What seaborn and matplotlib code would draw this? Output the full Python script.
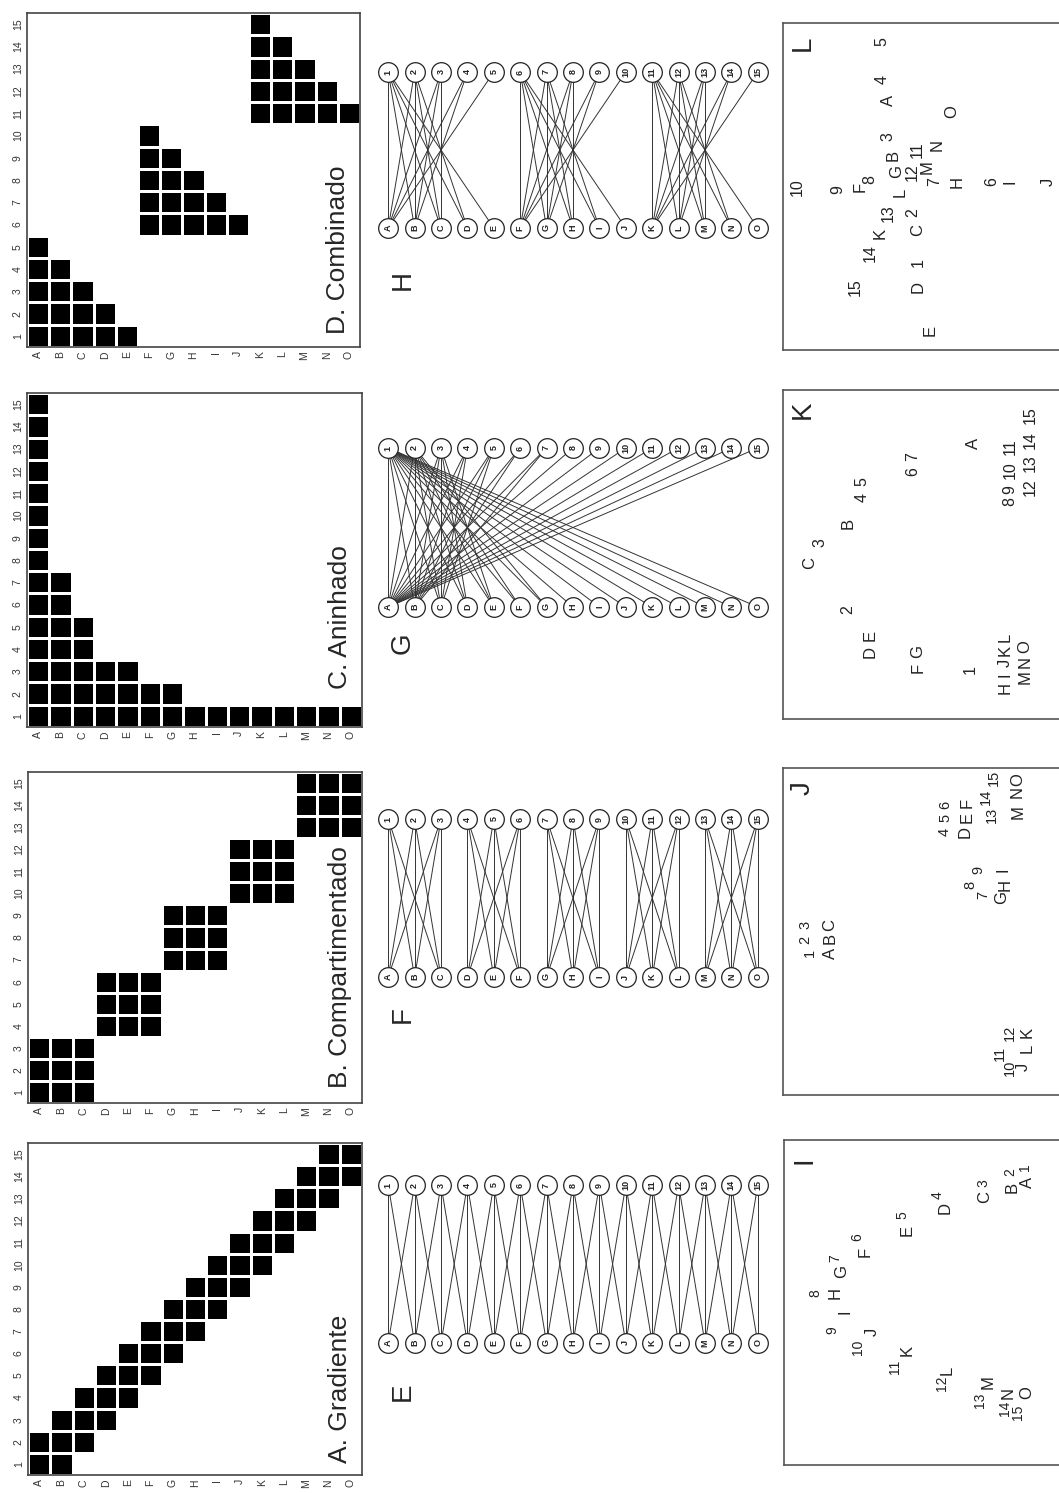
import numpy as np
import pandas as pd
import seaborn as sns
import matplotlib.pyplot as plt
from matplotlib.colors import ListedColormap

sns.set_theme(style="white")
plt.rcParams['font.family'] = ['Liberation Sans', 'DejaVu Sans']

W, H = 1059, 1493
fig = plt.figure(figsize=(W / 100, H / 100), dpi=100)

letters = list("ABCDEFGHIJKLMNO")
numbers = [str(i) for i in range(1, 16)]

# interaction ranges per plant (A..O): first and last animal (1..15)
grad_lo = [1, 1, 2, 3, 4, 5, 6, 7, 8, 9, 10, 11, 12, 13, 14]
grad_hi = [2, 3, 4, 5, 6, 7, 8, 9, 10, 11, 12, 13, 14, 15, 15]
comp_lo = [1, 1, 1, 4, 4, 4, 7, 7, 7, 10, 10, 10, 13, 13, 13]
comp_hi = [3, 3, 3, 6, 6, 6, 9, 9, 9, 12, 12, 12, 15, 15, 15]
nest_lo = [1, 1, 1, 1, 1, 1, 1, 1, 1, 1, 1, 1, 1, 1, 1]
nest_hi = [15, 7, 5, 3, 3, 2, 2, 1, 1, 1, 1, 1, 1, 1, 1]
comb_lo = [1, 1, 1, 1, 1, 6, 6, 6, 6, 6, 11, 11, 11, 11, 11]
comb_hi = [5, 4, 3, 2, 1, 10, 9, 8, 7, 6, 15, 14, 13, 12, 11]

# ordination scores (label, axis offsets inside each panel)
ordI_lab = ["1", "A", "2", "B", "3", "C", "4", "D", "5", "E", "6", "F", "7", "G", "8", "H",
            "I", "9", "10", "J", "11", "K", "12", "L", "13", "M", "14", "15", "N", "O"]
ordI_x = [241, 243, 226, 228, 199, 201, 154, 161, 118, 123, 73, 81, 51, 58, 31, 51,
          61, 48, 74, 88, 111, 123, 158, 163, 196, 204, 221, 234, 224, 243]
ordI_y = [27, 42, 32, 47, 43, 57, 55, 68, 75, 90, 97, 112, 118, 132, 153, 153,
          172, 190, 207, 192, 227, 210, 243, 230, 260, 242, 268, 272, 253, 253]

ordJ_lab = ["1", "2", "3", "A", "B", "C", "4", "5", "6", "D", "E", "F", "7", "8", "9", "G", "H", "I",
            "10", "11", "12", "J", "L", "K", "13", "14", "15", "M", "N", "O"]
ordJ_x = [27, 22, 22, 47, 47, 47, 162, 162, 162, 182, 184, 184, 200, 187, 195, 219, 222, 220,
          227, 217, 227, 240, 244, 244, 209, 203, 211, 235, 234, 235]
ordJ_y = [185, 172, 157, 185, 170, 157, 64, 50, 37, 64, 49, 35, 127, 117, 102, 129, 117, 102,
          300, 285, 265, 299, 280, 264, 47, 29, 10, 44, 24, 12]

ordK_lab = ["A", "6", "7", "4", "5", "B", "3", "C", "2", "D", "E", "F", "G", "1",
            "H", "I", "J", "K", "L", "M", "N", "O", "8", "9", "10", "11", "12", "13", "14", "15"]
ordK_x = [190, 130, 130, 79, 79, 65, 37, 27, 65, 87, 87, 135, 135, 187,
          222, 222, 222, 222, 222, 242, 242, 242, 227, 227, 227, 227, 247, 247, 247, 247]
ordK_y = [53, 82, 67, 107, 92, 133, 153, 173, 220, 262, 245, 278, 262, 280,
          298, 285, 273, 260, 247, 287, 272, 257, 112, 100, 80, 57, 97, 73, 50, 25]

ordL_lab = ["5", "4", "A", "O", "3", "B", "11", "N", "G", "12", "8", "M", "7", "9", "F",
            "10", "L", "H", "6", "I", "J", "13", "2", "K", "C", "14", "1", "15", "D", "E"]
ordL_x = [99, 99, 105, 169, 105, 110, 134, 154, 114, 129, 87, 144, 152, 55, 77,
          14, 117, 174, 209, 227, 265, 105, 130, 97, 135, 87, 135, 72, 135, 147]
ordL_y = [19, 57, 77, 89, 114, 132, 127, 122, 149, 149, 157, 144, 159, 167, 164,
          164, 169, 159, 159, 159, 159, 190, 190, 210, 207, 230, 240, 264, 264, 307]


def px_axes(x0, y0, x1, y1):
    return fig.add_axes([x0 / W, 1 - y1 / H, (x1 - x0) / W, (y1 - y0) / H])


def build_matrix(lo, hi):
    m = np.zeros((15, 15))
    for i, (a, b) in enumerate(zip(lo, hi)):
        m[a - 1:b, i] = 1
    return pd.DataFrame(m[::-1], index=numbers[::-1], columns=letters)


# ---- matrices A-D
mat_panels = [
    (grad_lo, grad_hi, "A. Gradiente", (28, 1143, 362, 1475), 0.035),
    (comp_lo, comp_hi, "B. Compartimentado", (28, 772, 362, 1103), 0.045),
    (nest_lo, nest_hi, "C. Aninhado", (27, 393, 362, 727), 0.115),
    (comb_lo, comb_hi, "D. Combinado", (27, 13, 360, 347), 0.04),
]
for lo, hi, title, box, ty in mat_panels:
    ax = px_axes(*box)
    sns.heatmap(build_matrix(lo, hi), cmap=ListedColormap(["white", "black"]), cbar=False,
                linewidths=0.8, linecolor="white", ax=ax)
    ax.set_xticklabels(letters, rotation=90, fontsize=7.5, color="#333")
    ax.set_yticklabels(numbers[::-1], rotation=90, fontsize=7.5, va="center", color="#333")
    ax.tick_params(length=0, pad=3)
    ax.set_xlabel("")
    ax.set_ylabel("")
    for s in ax.spines.values():
        s.set_visible(True)
        s.set_color("#444")
        s.set_linewidth(1.2)
    ax.text(0.935, ty, title, transform=ax.transAxes, rotation=90, fontsize=19,
            ha="center", va="bottom")

# ---- bipartite networks E-H
net_panels = [
    (grad_lo, grad_hi, "E", 1185, 1343, 1392),
    (comp_lo, comp_hi, "F", 819, 977, 1015),
    (nest_lo, nest_hi, "G", 448, 607, 643),
    (comb_lo, comb_hi, "H", 72, 228, 280),
]
for lo, hi, lab, ytop, ybot, ylab in net_panels:
    unit = ybot - ytop
    ax = px_axes(375, ytop - 0.2 * unit, 771, ybot + 0.2 * unit)
    for i, (a, b) in enumerate(zip(lo, hi)):
        for n in range(a, b + 1):
            ax.plot([i, n - 1], [0, 1], color="#333", lw=0.7, zorder=1)
    pos = np.arange(15)
    nodes = pd.DataFrame({"x": np.concatenate([pos, pos]),
                          "y": [1] * 15 + [0] * 15,
                          "name": numbers + letters})
    sns.scatterplot(data=nodes, x="x", y="y", s=200, color="white", edgecolor="#222",
                    linewidth=0.9, ax=ax, zorder=3)
    for _, r in nodes.iterrows():
        ax.text(r["x"], r["y"], r["name"], rotation=90, fontsize=6.5, fontweight="bold",
                ha="center", va="center", zorder=4, color="#222")
    ax.set_xlim(-0.5, 14.5)
    ax.set_ylim(-0.2, 1.2)
    ax.axis("off")
    fig.text(403 / W, 1 - ylab / H, lab, rotation=90, fontsize=20, ha="center", va="center")

# ---- ordinations I-L
ord_panels = [
    (ordI_lab, ordI_x, ordI_y, "I", (784, 1140, 1062, 1465), 10),
    (ordJ_lab, ordJ_x, ordJ_y, "J", (783, 768, 1062, 1095), 10.5),
    (ordK_lab, ordK_x, ordK_y, "K", (783, 390, 1062, 719), 11.5),
    (ordL_lab, ordL_x, ordL_y, "L", (783, 23, 1062, 350), 11.5),
]
for labs, xs, ys, lab, box, num_fs in ord_panels:
    ax = px_axes(*box)
    w, h = box[2] - box[0], box[3] - box[1]
    ax.set_xlim(0, w)
    ax.set_ylim(h, 0)
    for t, x, y in zip(labs, xs, ys):
        fs = num_fs if t.isdigit() else 12
        ax.text(x, y, t, rotation=90, fontsize=fs, ha="center", va="center", color="#222")
    ax.set_xticks([])
    ax.set_yticks([])
    for s in ax.spines.values():
        s.set_color("#555")
        s.set_linewidth(1.2)
    ax.text(20, 20, lab, rotation=90, fontsize=20, ha="center", va="center")

fig.savefig("out.png", dpi=100, facecolor="white")
